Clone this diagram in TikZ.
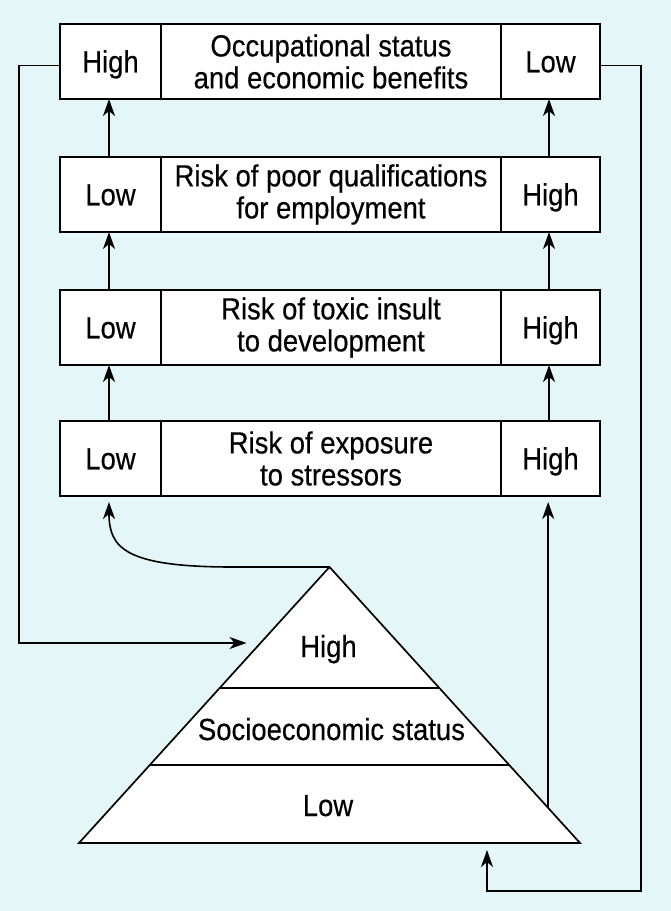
\documentclass[tikz,border=0pt]{standalone}
\usepackage{fontspec}
\setmainfont{Liberation Sans}[FakeStretch=0.9,FakeBold=0.4]
\usetikzlibrary{arrows.meta,calc}
\definecolor{bg}{HTML}{E4F6F7}
\begin{document}
\begin{tikzpicture}[x=1pt,y=-1pt,
  every node/.style={font=\fontsize{30.5}{32}\selectfont},
  cell/.style={draw=black, line width=1.7pt, fill=white, inner sep=0pt, outer sep=0pt, minimum height=75pt},
  lcell/.style={cell, minimum width=101pt, text height=21.5pt, text depth=0pt},
  mcell/.style={cell, minimum width=340pt, align=center},
  rcell/.style={cell, minimum width=99pt, text height=21.5pt, text depth=0pt},
  lbl/.style={inner sep=0pt, anchor=base},
  conn/.style={line width=1.6pt, -{Stealth[length=17pt,width=12pt,inset=5pt]}},
  plain/.style={line width=1.7pt}
]
\fill[bg] (0,0) rectangle (671,911);
\useasboundingbox (0,0) rectangle (671,911);

% pyramid
\coordinate (apex) at (329.5,567);
\coordinate (bl) at (79,843);
\coordinate (br) at (580,843);
\draw[plain, fill=white, line join=miter] (apex) -- (bl) -- (br) -- cycle;
\draw[plain] ($(apex)!0.4384!(bl)$) -- ($(apex)!0.4384!(br)$);
\draw[plain] ($(apex)!0.7174!(bl)$) -- ($(apex)!0.7174!(br)$);
\node[lbl] (pHigh) at (328.5,657) {High};
\node[lbl] (pSoc) at (331.5,740) {Socioeconomic status};
\node[lbl] (pLow) at (328,816) {Low};

% boxes
\node[lcell] (l1) at (110.5,61.5) {High};
\node[mcell] (m1) at (331,61.5) {Occupational status\\and economic benefits};
\node[rcell] (r1) at (550.5,61.5) {Low};

\node[lcell] (l2) at (110.5,194.5) {Low};
\node[mcell] (m2) at (331,194.5) {Risk of poor qualifications\\for employment};
\node[rcell] (r2) at (550.5,194.5) {High};

\node[lcell] (l3) at (110.5,327.5) {Low};
\node[mcell] (m3) at (331,327.5) {Risk of toxic insult\\to development};
\node[rcell] (r3) at (550.5,327.5) {High};

\node[lcell] (l4) at (110.5,458.5) {Low};
\node[mcell] (m4) at (331,458.5) {Risk of exposure\\to stressors};
\node[rcell] (r4) at (550.5,458.5) {High};

% arrows between boxes
\foreach \a/\b in {2/1,3/2,4/3} {
  \draw[conn] ([xshift=-1.5pt]l\a.north) -- ([xshift=-1.5pt]l\b.south);
  \draw[conn] ([xshift=-1.5pt]r\a.north) -- ([xshift=-1.5pt]r\b.south);
}

% left loop
\coordinate (lc) at (19,643);
\coordinate (tipL) at (246.5,643);
\draw[conn] ([yshift=-4pt]l1.west) -| (lc) -- (tipL);

% right loop
\coordinate (rc) at (641,891);
\coordinate (tipB) at (487,850);
\draw[conn] ([yshift=-4pt]r1.east) -| (rc) -| (tipB);

% pyramid right edge to r4
\coordinate (eR) at ($(apex)!0.873!(br)$);
\draw[conn, shorten >=6pt] (eR) -- (eR |- r4.south);

% apex curve to l4
\coordinate (cv) at (233,567);
\draw[conn, shorten >=6pt] (apex) -- (cv) .. controls (125,567) and ($(l4.south)+(-1.5,52)$) .. ([xshift=-1.5pt]l4.south);
\end{tikzpicture}
\end{document}
